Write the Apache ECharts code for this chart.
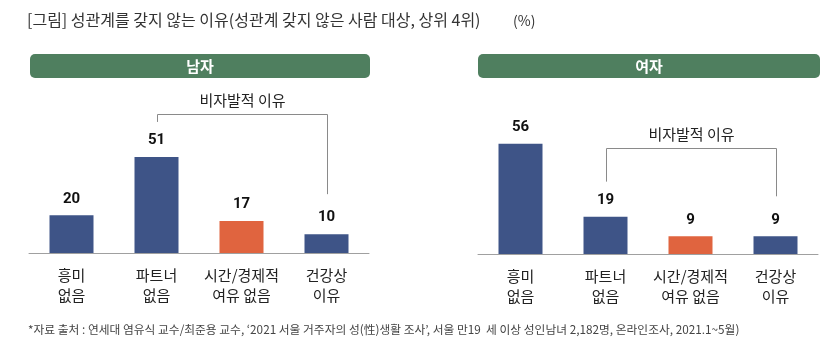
<!DOCTYPE html>
<html><head><meta charset="utf-8">
<script src="https://cdn.jsdelivr.net/npm/echarts@6/dist/echarts.min.js"></script>
<style>html,body{margin:0;padding:0;background:#fff}#c{width:835px;height:359px}</style>
</head><body><div id="c"></div>
<script>
const categories = ['흥미\n없음', '파트너\n없음', '시간/경제적\n여유 없음', '건강상\n이유'];
const maleValues = [20, 51, 17, 10];
const femaleValues = [56, 19, 9, 9];
const panelTitles = ['남자', '여자'];
const bracketLabel = '비자발적 이유';
const titleText = '[그림] 성관계를 갖지 않는 이유(성관계 갖지 않은 사람 대상, 상위 4위)';
const unitText = '(%)';
const sourceText = '*자료 출처 : 연세대 염유식 교수/최준용 교수, ‘2021 서울 거주자의 성(性)생활 조사’, 서울 만19  세 이상 성인남녀 2,182명, 온라인조사, 2021.1~5월)';

const FONT = '"Noto Sans CJK KR", "Noto Sans", sans-serif';
const BLUE = '#3e5487', ORANGE = '#e0643f', GREEN = '#4f7f5f';
const highlightIndex = 2;

function barData(vals) {
  return vals.map((v, i) => ({ value: v, itemStyle: { color: i === highlightIndex ? ORANGE : BLUE } }));
}
function xAxis(gi) {
  return {
    type: 'category', gridIndex: gi, data: categories,
    axisLine: { lineStyle: { color: '#a0a0a0', width: 1 } },
    axisTick: { show: false },
    axisLabel: { fontFamily: FONT, fontSize: 15, color: '#222', lineHeight: 20, margin: 12, interval: 0 }
  };
}
function yAxis(gi) {
  return { type: 'value', gridIndex: gi, min: 0, max: 60, show: false, splitLine: { show: false } };
}
function series(gi, vals) {
  return {
    type: 'bar', xAxisIndex: gi, yAxisIndex: gi, data: barData(vals), barWidth: 44,
    label: { show: true, position: 'top', distance: 9, fontFamily: 'Roboto, "Noto Sans", sans-serif', fontWeight: 'bold', fontSize: 15, color: '#111' },
    silent: true, animation: false
  };
}

const chart = echarts.init(document.getElementById('c'));
const option = {
  animation: false,
  grid: [
    { left: 29, right: 466, top: 140, bottom: 106 },
    { left: 478, right: 17, top: 136, bottom: 105 }
  ],
  xAxis: [xAxis(0), xAxis(1)],
  yAxis: [yAxis(0), yAxis(1)],
  series: [series(0, maleValues), series(1, femaleValues)],
  graphic: []
};
chart.setOption(option);

const panels = [
  { left: 30, width: 340, vals: maleValues, lineY: 114 },
  { left: 478, width: 342, vals: femaleValues, lineY: 148 }
];
const g = [];
g.push({ type: 'text', x: 27, y: 20, style: { text: titleText, font: '16px ' + FONT, fill: '#333', verticalAlign: 'middle' } });
g.push({ type: 'text', x: 513, y: 21, style: { text: unitText, font: '14px ' + FONT, fill: '#333', verticalAlign: 'middle' } });
g.push({ type: 'text', x: 28, y: 330, style: { text: sourceText, font: '11.75px ' + FONT, fill: '#444', verticalAlign: 'middle' } });
panels.forEach((p, gi) => {
  g.push({ type: 'rect', shape: { x: p.left, y: 54, width: p.width, height: 24, r: 5 }, style: { fill: GREEN } });
  g.push({ type: 'text', x: p.left + p.width / 2, y: 66, style: { text: panelTitles[gi], font: 'bold 15px ' + FONT, fill: '#fff', align: 'center', verticalAlign: 'middle' } });
  const a = chart.convertToPixel({ gridIndex: gi }, [1, p.vals[1]]);
  const b = chart.convertToPixel({ gridIndex: gi }, [3, p.vals[3]]);
  const x1 = Math.round(a[0]) + 0.5, x2 = Math.round(b[0]) + 0.5;
  g.push({ type: 'polyline', shape: { points: [[x1, a[1] - 35], [x1, p.lineY + 0.5], [x2, p.lineY + 0.5], [x2, b[1] - 40]] }, style: { stroke: '#8a8a8a', lineWidth: 1, fill: null } });
  g.push({ type: 'text', x: (x1 + x2) / 2, y: p.lineY - 14, style: { text: bracketLabel, font: '15px ' + FONT, fill: '#222', align: 'center', verticalAlign: 'middle' } });
});
chart.setOption({ graphic: g });
</script></body></html>
